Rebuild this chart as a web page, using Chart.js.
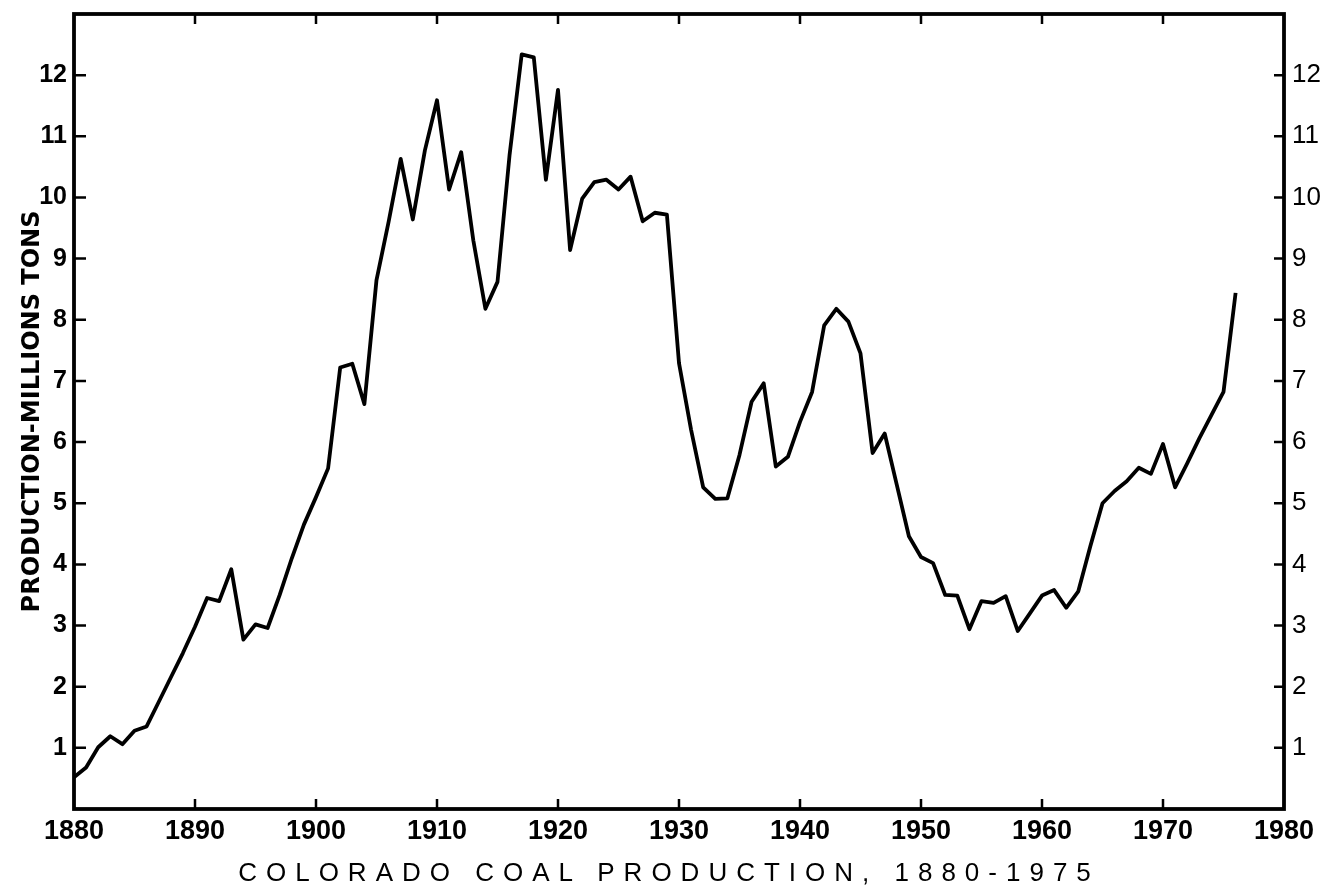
<!DOCTYPE html>
<html>
<head>
<meta charset="utf-8">
<script src="https://cdn.jsdelivr.net/npm/chart.js@4.4.1/dist/chart.umd.min.js"></script>
<style>
  html, body { margin: 0; padding: 0; background: #fff; }
  #wrap { position: relative; width: 1326px; height: 888px; }
  #c { position: absolute; left: 0; top: 0; }
  #caption {
    position: absolute; left: 0; top: 857px; width: 1338px;
    text-align: center; font-family: "Liberation Sans", Arial, sans-serif;
    font-size: 26px; letter-spacing: 9px; color: #000; white-space: nowrap;
  }
</style>
</head>
<body>
<div id="wrap">
  <canvas id="c" width="1326" height="888"></canvas>
  <div id="caption">COLORADO COAL PRODUCTION, 1880-1975</div>
</div>
<script>
// Years (x) and Colorado coal production in millions of tons (y)
const years = [
  1880, 1881, 1882, 1883, 1884, 1885, 1886, 1887, 1888, 1889,
  1890, 1891, 1892, 1893, 1894, 1895, 1896, 1897, 1898, 1899,
  1900, 1901, 1902, 1903, 1904, 1905, 1906, 1907, 1908, 1909,
  1910, 1911, 1912, 1913, 1914, 1915, 1916, 1917, 1918, 1919,
  1920, 1921, 1922, 1923, 1924, 1925, 1926, 1927, 1928, 1929,
  1930, 1931, 1932, 1933, 1934, 1935, 1936, 1937, 1938, 1939,
  1940, 1941, 1942, 1943, 1944, 1945, 1946, 1947, 1948, 1949,
  1950, 1951, 1952, 1953, 1954, 1955, 1956, 1957, 1958, 1959,
  1960, 1961, 1962, 1963, 1964, 1965, 1966, 1967, 1968, 1969,
  1970, 1971, 1972, 1973, 1974, 1975, 1976
];
const production = [
  0.52, 0.68, 1.01, 1.19, 1.06, 1.28, 1.35, 1.75, 2.15, 2.55,
  2.98, 3.45, 3.40, 3.92, 2.77, 3.02, 2.96, 3.50, 4.10, 4.65,
  5.10, 5.57, 7.22, 7.28, 6.62, 8.65, 9.60, 10.63, 9.64, 10.77,
  11.59, 10.13, 10.74, 9.30, 8.18, 8.62, 10.70, 12.34, 12.29, 10.29,
  11.76, 9.14, 9.98, 10.25, 10.29, 10.13, 10.34, 9.61, 9.75, 9.72,
  7.29, 6.20, 5.26, 5.07, 5.08, 5.79, 6.66, 6.96, 5.60, 5.76,
  6.33, 6.82, 7.91, 8.18, 7.97, 7.45, 5.82, 6.14, 5.30, 4.46,
  4.12, 4.02, 3.50, 3.49, 2.94, 3.40, 3.37, 3.48, 2.91, 3.20,
  3.49, 3.58, 3.29, 3.56, 4.30, 5.00, 5.20, 5.36, 5.58, 5.48,
  5.97, 5.26, 5.65, 6.06, 6.44, 6.82, 8.44
];
const xTickValues = [1880, 1890, 1900, 1910, 1920, 1930, 1940, 1950, 1960, 1970, 1980];
const yTickValues = [1, 2, 3, 4, 5, 6, 7, 8, 9, 10, 11, 12];
const yTitle = 'PRODUCTION-MILLIONS TONS';

const points = years.map((y, i) => ({ x: y, y: production[i] }));

const frameAndTicks = {
  id: 'frameAndTicks',
  afterDatasetsDraw(chart) {
    const { ctx, chartArea: a, scales } = chart;
    const L = 10;
    ctx.save();
    ctx.strokeStyle = '#000';
    ctx.lineWidth = 2.5;
    ctx.lineCap = 'butt';
    ctx.beginPath();
    xTickValues.forEach(v => {
      if (v === 1880 || v === 1980) return;
      const px = scales.x.getPixelForValue(v);
      ctx.moveTo(px, a.bottom); ctx.lineTo(px, a.bottom - L);
      ctx.moveTo(px, a.top); ctx.lineTo(px, a.top + L);
    });
    yTickValues.forEach(v => {
      const py = scales.y.getPixelForValue(v);
      ctx.moveTo(a.left, py); ctx.lineTo(a.left + L + 2, py);
      const py2 = scales.y2.getPixelForValue(v);
      ctx.moveTo(a.right, py2); ctx.lineTo(a.right - L, py2);
    });
    ctx.stroke();
    ctx.lineWidth = 3.8;
    ctx.strokeRect(a.left, a.top, a.right - a.left, a.bottom - a.top);
    ctx.restore();
  }
};

const noPad = s => { s.paddingTop = 0; s.paddingBottom = 0; };

new Chart(document.getElementById('c'), {
  type: 'line',
  data: {
    datasets: [{
      data: points,
      borderColor: '#000',
      borderWidth: 3.8,
      pointRadius: 0,
      tension: 0,
      fill: false,
      borderJoinStyle: 'round',
      clip: false
    }]
  },
  options: {
    responsive: false,
    animation: false,
    devicePixelRatio: 1,
    layout: { padding: { top: 14, left: 0, right: 0, bottom: 0 } },
    plugins: { legend: { display: false }, tooltip: { enabled: false }, title: { display: false } },
    scales: {
      x: {
        type: 'linear',
        position: 'bottom',
        min: 1880, max: 1980,
        afterBuildTicks: s => { s.ticks = xTickValues.map(v => ({ value: v })); },
        afterFit: s => { s.height = 79; s.paddingLeft = 0; s.paddingRight = 0; },
        grid: { display: false, drawTicks: false },
        border: { display: false },
        ticks: {
          autoSkip: false, maxRotation: 0, padding: 6,
          color: '#000',
          font: { family: '"Liberation Sans", Arial, sans-serif', size: 27, weight: 'bold' },
          callback: v => String(v)
        }
      },
      y: {
        type: 'linear',
        position: 'left',
        min: 0, max: 13,
        afterBuildTicks: s => { s.ticks = yTickValues.map(v => ({ value: v })); },
        afterFit: s => { s.width = 74; noPad(s); },
        grid: { display: false, drawTicks: false },
        border: { display: false },
        ticks: { padding: 7, color: '#000', font: { family: '"Liberation Sans", Arial, sans-serif', size: 25, weight: 'bold' } },
        title: {
          display: true, text: yTitle, color: '#000',
          font: { family: '"DejaVu Sans", sans-serif', size: 24, weight: 'bold' },
          padding: { top: 18, bottom: 0 }
        }
      },
      y2: {
        type: 'linear',
        position: 'right',
        min: 0, max: 13,
        afterBuildTicks: s => { s.ticks = yTickValues.map(v => ({ value: v })); },
        afterFit: s => { s.width = 42; noPad(s); },
        grid: { display: false, drawTicks: false },
        border: { display: false },
        ticks: { padding: 8, color: '#000', font: { family: '"Liberation Sans", Arial, sans-serif', size: 26, weight: 'normal' } }
      }
    }
  },
  plugins: [frameAndTicks]
});
</script>
</body>
</html>
